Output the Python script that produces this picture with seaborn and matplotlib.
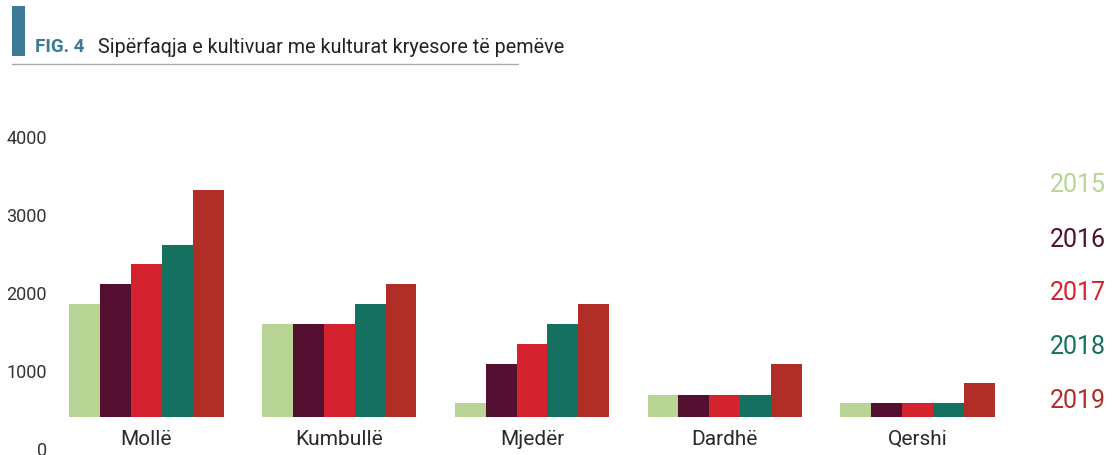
import matplotlib
matplotlib.use("Agg")
import matplotlib.pyplot as plt
import seaborn as sns
import pandas as pd
from matplotlib.patches import Rectangle

categories = ["Mollë", "Kumbullë", "Mjedër", "Dardhë", "Qershi"]
years = ["2015", "2016", "2017", "2018", "2019"]
v2015 = [1846, 1590, 577, 679, 577]
v2016 = [2103, 1590, 1077, 679, 577]
v2017 = [2355, 1590, 1333, 679, 577]
v2018 = [2606, 1846, 1590, 679, 577]
v2019 = [3308, 2103, 1846, 1077, 833]
yticks = [0, 1000, 2000, 3000, 4000]
colors = ["#b8d595", "#520f2f", "#d4232e", "#167060", "#b12d28"]

rows = []
for yr, vals in zip(years, [v2015, v2016, v2017, v2018, v2019]):
    for c, v in zip(categories, vals):
        rows.append({"cat": c, "year": yr, "value": v})
df = pd.DataFrame(rows)

sns.set_theme(style="white")
plt.rcParams["font.family"] = ["Roboto", "DejaVu Sans"]

W, H = 1115, 456
fig = plt.figure(figsize=(W / 100, H / 100), dpi=100)
left, right, bottom, top = 58, 1010, 456 - 449, 456 - 100
ax = fig.add_axes([left / W, bottom / H, (right - left) / W, (top - bottom) / H])

sns.barplot(data=df, x="cat", y="value", hue="year", palette=colors,
            width=0.8, gap=0, linewidth=0, saturation=1, legend=False, ax=ax)

ax.set_xlim((left - 146.5) / 192.75, (right - 146.5) / 192.75)
ax.set_ylim(0, (449 - 100) / 78 * 1000)
ax.set_yticks(yticks)
ax.set_yticklabels([str(t) for t in yticks], fontsize=13, color="#333333")
ax.set_xlabel("")
ax.set_ylabel("")
ax.tick_params(axis="x", length=0, pad=-14, labelsize=15, labelcolor="#2a2a2a")
ax.tick_params(axis="y", length=0, pad=8)
for s in ax.spines.values():
    s.set_visible(False)
ax.set_axisbelow(False)

# white band below bar baseline (category labels sit in it)
ax.add_patch(Rectangle((0, 0), 1, 397 / ((449 - 100) / 78 * 1000),
                       transform=ax.transAxes, facecolor="white",
                       edgecolor="none", zorder=2))

# legend as coloured year labels
legend_y = [185, 240, 293, 347, 401]
for yr, col, py in zip(years, colors, legend_y):
    fig.text(1050 / W, 1 - py / H, yr, color=col, fontsize=18,
             ha="left", va="center")

# title block
fig.add_artist(Rectangle((12 / W, 1 - 57 / H), 13 / W, 50 / H,
                         transform=fig.transFigure, facecolor="#3d7a96",
                         edgecolor="none"))
fig.text(35 / W, 1 - 47 / H, "FIG. 4", color="#3d7a96", fontsize=13.5,
         fontweight="bold", ha="left", va="center")
fig.text(98 / W, 1 - 47 / H, "Sipërfaqja e kultivuar me kulturat kryesore të pemëve",
         color="#222222", fontsize=14.2, ha="left", va="center")
fig.add_artist(plt.Line2D([12 / W, 518 / W], [1 - 65 / H, 1 - 65 / H],
                          transform=fig.transFigure, color="#aaaaaa", lw=1))

fig.savefig("out.png", dpi=100)
